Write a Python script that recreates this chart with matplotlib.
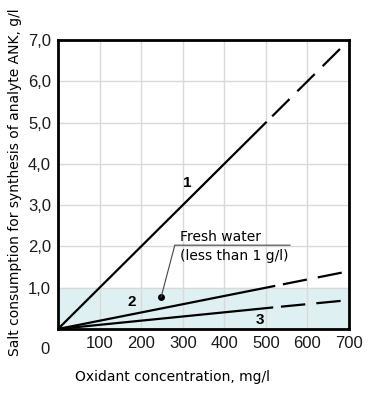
import matplotlib
matplotlib.use("Agg")
import matplotlib.pyplot as plt
import numpy as np

# Data
x_solid_1 = [0, 500]
y_solid_1 = [0, 5.0]
x_dash_1 = [500, 700]
y_dash_1 = [5.0, 7.0]

x_solid_2 = [0, 520]
y_solid_2 = [0, 1.04]
x_dash_2 = [520, 700]
y_dash_2 = [1.04, 1.4]

x_solid_3 = [0, 515]
y_solid_3 = [0, 0.52]
x_dash_3 = [515, 700]
y_dash_3 = [0.52, 0.7]

x_ticks = [100, 200, 300, 400, 500, 600, 700]
y_ticks = [1, 2, 3, 4, 5, 6, 7]
y_tick_labels = ["1,0", "2,0", "3,0", "4,0", "5,0", "6,0", "7,0"]
fresh_limit = 1.0

fig = plt.figure(figsize=(3.83, 4.0), dpi=100)
ax = fig.add_axes([0.1514, 0.1775, 0.7598, 0.7225])

ax.axhspan(0, fresh_limit, color="#dff0f3", zorder=0)
ax.set_xlim(0, 700)
ax.set_ylim(0, 7)
ax.set_xticks(x_ticks)
ax.set_yticks(y_ticks)
ax.set_yticklabels(y_tick_labels)
ax.grid(True, color="#d9d9d9", linewidth=1.0, zorder=1)
ax.set_axisbelow(True)
ax.tick_params(length=0, labelsize=12, pad=5, labelcolor="#1a1a1a")
for lab in ax.get_xticklabels() + ax.get_yticklabels():
    lab.set_fontfamily("Liberation Sans")
for s in ax.spines.values():
    s.set_linewidth(2)
    s.set_color("black")

lw = 1.6
dash = (12, (11, 5))
ax.plot(x_solid_1, y_solid_1, color="black", lw=lw, zorder=3)
ax.plot(x_dash_1, y_dash_1, color="black", lw=lw, ls=dash, zorder=3)
ax.plot(x_solid_2, y_solid_2, color="black", lw=lw, zorder=3)
ax.plot(x_dash_2, y_dash_2, color="black", lw=lw, ls=dash, zorder=3)
ax.plot(x_solid_3, y_solid_3, color="black", lw=lw, zorder=3)
ax.plot(x_dash_3, y_dash_3, color="black", lw=lw, ls=dash, zorder=3)

bold = dict(fontsize=11, fontweight="bold", family="Liberation Sans",
            ha="center", va="center")
ax.text(312, 3.53, "1", **bold)
ax.text(178, 0.65, "2", **bold)
ax.text(486, 0.22, "3", **bold)

# Fresh water annotation
ax.plot([248], [0.77], marker="o", color="black", markersize=4, zorder=4)
ax.plot([248, 281, 558], [0.77, 2.03, 2.03], color="#444444", lw=0.8, zorder=4)
ax.text(293, 2.23, "Fresh water", fontsize=10, ha="left", va="center", family="DejaVu Sans")
ax.text(293, 1.77, "(less than 1 g/l)", fontsize=10, ha="left", va="center", family="DejaVu Sans")

ax.text(-31, -0.5, "0", fontsize=12, family="Liberation Sans", ha="center", va="center",
        color="#1a1a1a", clip_on=False)

fig.text(75 / 383, 1 - 377 / 400, "Oxidant concentration, mg/l", fontsize=10,
         ha="left", va="center", family="DejaVu Sans")
fig.text(15 / 383, 1 - 182.5 / 400, "Salt consumption for synthesis of analyte ANK, g/l",
         fontsize=10, rotation=90, ha="center", va="center", family="DejaVu Sans")

fig.savefig("out.png", dpi=100)
